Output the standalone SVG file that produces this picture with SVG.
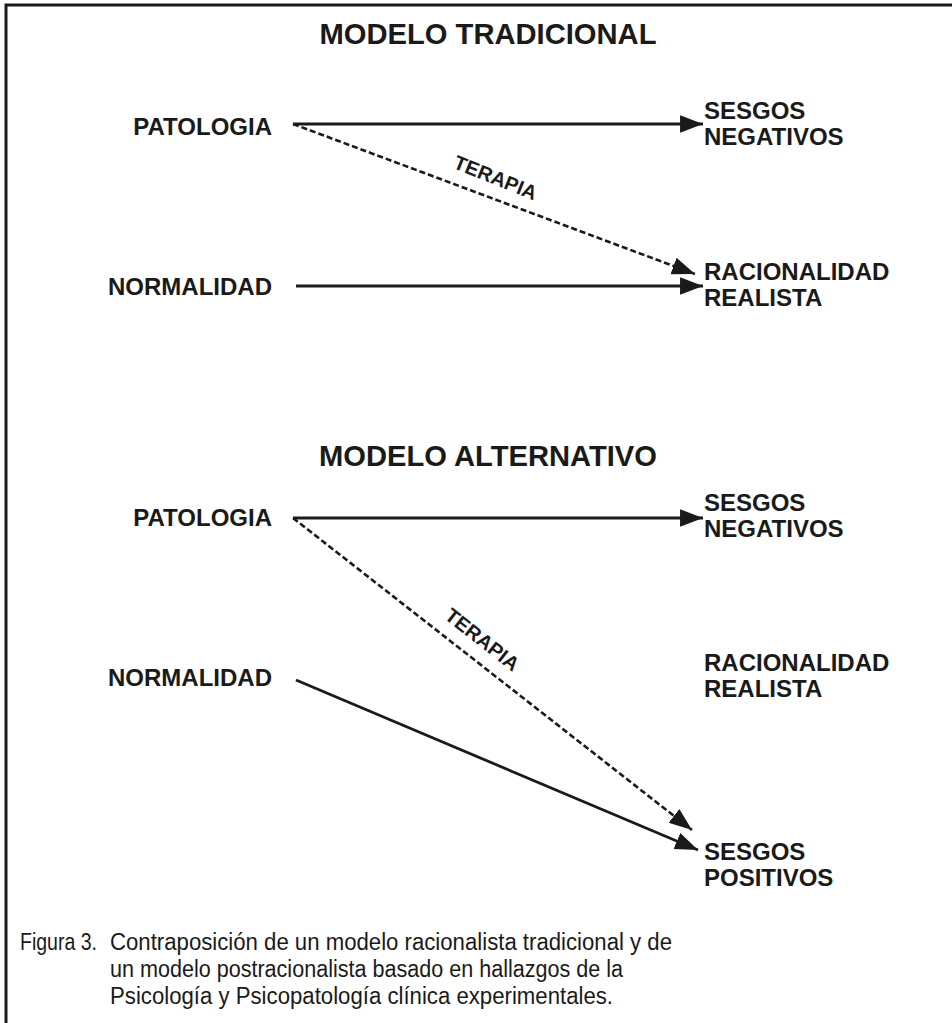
<svg xmlns="http://www.w3.org/2000/svg" width="952" height="1023" viewBox="0 0 952 1023">
<defs>
<style>
.t{font-family:"Liberation Sans",Arial,sans-serif;font-weight:bold;fill:#1a1a1a}
.h{font-size:30px}
.n{font-size:24px}
.l{font-size:20px;font-weight:bold;fill:#1a1a1a;font-family:"Liberation Sans",Arial,sans-serif}
.c{font-family:"Liberation Sans",Arial,sans-serif;font-size:23px;fill:#1a1a1a}
.s{stroke:#1a1a1a;stroke-width:2.8;fill:none}
.d{stroke:#1a1a1a;stroke-width:2.6;fill:none;stroke-dasharray:6 3}
</style>
<marker id="ah" markerUnits="userSpaceOnUse" markerWidth="24" markerHeight="20" refX="21" refY="8" orient="auto" viewBox="0 0 22 16">
<path d="M0,0 L21,8 L0,16 Z" fill="#1a1a1a"/>
</marker>
</defs>
<rect width="952" height="1023" fill="#fff"/>
<g id="frame">
<path d="M6,1023 V5 H952" stroke="#1a1a1a" stroke-width="3" fill="none"/>
</g>
<g id="title1"><text class="t h" x="488" y="44" text-anchor="middle" textLength="337" lengthAdjust="spacingAndGlyphs">MODELO TRADICIONAL</text></g>
<g id="pat1"><text class="t n" x="272" y="135" text-anchor="end">PATOLOGIA</text></g>
<g id="sesneg1"><text class="t n" x="704" y="119">SESGOS</text><text class="t n" x="704" y="145">NEGATIVOS</text></g>
<g id="norm1"><text class="t n" x="272" y="295" text-anchor="end">NORMALIDAD</text></g>
<g id="rac1"><text class="t n" x="704" y="280">RACIONALIDAD</text><text class="t n" x="704" y="306">REALISTA</text></g>
<g id="title2"><text class="t h" x="488" y="466" text-anchor="middle" textLength="338" lengthAdjust="spacingAndGlyphs">MODELO ALTERNATIVO</text></g>
<g id="pat2"><text class="t n" x="272" y="526" text-anchor="end">PATOLOGIA</text></g>
<g id="sesneg2"><text class="t n" x="704" y="511">SESGOS</text><text class="t n" x="704" y="537">NEGATIVOS</text></g>
<g id="norm2"><text class="t n" x="272" y="686" text-anchor="end">NORMALIDAD</text></g>
<g id="rac2"><text class="t n" x="704" y="671">RACIONALIDAD</text><text class="t n" x="704" y="697">REALISTA</text></g>
<g id="sespos2"><text class="t n" x="704" y="860">SESGOS</text><text class="t n" x="704" y="886">POSITIVOS</text></g>
<g id="connectors">
<line class="s" x1="293" y1="124" x2="703" y2="124" marker-end="url(#ah)"/>
<line class="d" x1="293" y1="124" x2="695" y2="274" marker-end="url(#ah)"/>
<line class="s" x1="296" y1="286" x2="703" y2="286" marker-end="url(#ah)"/>
<line class="s" x1="293" y1="518" x2="703" y2="518" marker-end="url(#ah)"/>
<line class="d" x1="293" y1="518" x2="692" y2="830" marker-end="url(#ah)"/>
<line class="s" x1="296" y1="680" x2="698" y2="850" marker-end="url(#ah)"/>
<text class="l" transform="translate(493,184) rotate(21.9)" text-anchor="middle">TERAPIA</text>
<text class="l" transform="translate(478,645) rotate(38)" text-anchor="middle">TERAPIA</text>
</g>
<g id="caption">
<text class="c" x="20" y="950" textLength="77" lengthAdjust="spacingAndGlyphs">Figura 3.</text>
<text class="c" x="110" y="950" textLength="562" lengthAdjust="spacingAndGlyphs">Contraposición de un modelo racionalista tradicional y de</text>
<text class="c" x="110" y="977" textLength="513" lengthAdjust="spacingAndGlyphs">un modelo postracionalista basado en hallazgos de la</text>
<text class="c" x="110" y="1004" textLength="503" lengthAdjust="spacingAndGlyphs">Psicología y Psicopatología clínica experimentales.</text>
</g>
</svg>
